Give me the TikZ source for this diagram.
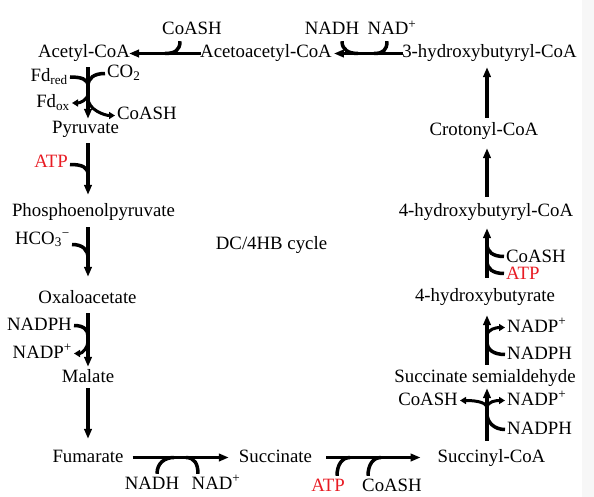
\documentclass[tikz,border=0pt]{standalone}
\usepackage{fontspec}
\setmainfont{Liberation Serif}
\usepackage{tikz}
\usepackage{xcolor}
\usetikzlibrary{arrows.meta}
\definecolor{atpred}{RGB}{232,28,36}

\begin{document}
\begin{tikzpicture}[x=1pt,y=-1pt,
  every node/.style={font=\fontsize{18.8}{22}\selectfont,inner sep=2pt,text height=13pt,text depth=4pt},
  main/.style={line width=3.5pt,-{Triangle[length=10pt,width=7.5pt]}},
  side/.style={line width=3.5pt},
  sidetip/.style={line width=3pt,-{Triangle[length=6pt,width=7pt]}},
  atp/.style={text=atpred}]

  \useasboundingbox (0,0) rectangle (594,497);
  \fill[black!3] (582,0) rectangle (594,497);

  \coordinate (L) at (88,0);
  \coordinate (R) at (487,0);

  \node (acetyl) at (84,53.5) {Acetyl-CoA};
  \node (acetoacetyl) at (266,53.5) {Acetoacetyl-CoA};
  \node (hbcoa3) at (489.5,53.5) {3-hydroxybutyryl-CoA};
  \node (pyruvate) at (85.5,129.5) {Pyruvate};
  \node (pep) at (93.5,211.5) {Phosphoenolpyruvate};
  \node (oaa) at (87.5,298.5) {Oxaloacetate};
  \node (malate) at (88,377.5) {Malate};
  \node (fumarate) at (88,457.5) {Fumarate};
  \node (succinate) at (275.5,457.5) {Succinate};
  \node (succinyl) at (491.5,457.5) {Succinyl-CoA};
  \node (ssa) at (485,377.5) {Succinate semialdehyde};
  \node (hb4) at (485,296.5) {4-hydroxybutyrate};
  \node (hbcoa4) at (486,211.5) {4-hydroxybutyryl-CoA};
  \node (crotonyl) at (484,131.5) {Crotonyl-CoA};
  \node (cycle) at (271.5,244.5) {DC/4HB cycle};

  \node (coasha) at (192,30.5) {CoASH};
  \node (nadha) at (332,30.5) {NADH};
  \node (nadpa) at (392,30.5) {NAD\textsuperscript{+}};
  \node[anchor=east] (fdred) at (70,77) {Fd\textsubscript{red}};
  \node[anchor=west] (co2) at (105,73.5) {CO\textsubscript{2}};
  \node[anchor=east] (fdox) at (72,103) {Fd\textsubscript{ox}};
  \node[anchor=west] (coashb) at (115,115.5) {CoASH};
  \node[anchor=east,atp] (atpa) at (70,163.5) {ATP};
  \node[anchor=east] (hco) at (72,239.5) {HCO\textsubscript{3}\textsuperscript{−}};
  \node[anchor=east] (nadpha) at (74,325.5) {NADPH};
  \node[anchor=east] (nadpb) at (74,353.5) {NADP\textsuperscript{+}};
  \node (nadhb) at (152,484.5) {NADH};
  \node (nadb) at (216,484.5) {NAD\textsuperscript{+}};
  \node[atp] (atpb) at (328,486.5) {ATP};
  \node (coashc) at (392,486.5) {CoASH};
  \node[anchor=west] (nadphb) at (505,429.5) {NADPH};
  \node[anchor=west] (nadpc) at (505,400.5) {NADP\textsuperscript{+}};
  \node[anchor=east] (coashd) at (460,400.5) {CoASH};
  \node[anchor=west] (nadphc) at (505,354.5) {NADPH};
  \node[anchor=west] (nadpd) at (505,327.5) {NADP\textsuperscript{+}};
  \node[anchor=west,atp] (atpc) at (504,274.5) {ATP};
  \node[anchor=west] (coashe) at (504,257.5) {CoASH};

  \coordinate (ja) at (165,53.5);
  \coordinate (jb) at (358,53.5);
  \coordinate (jc) at (374,53.5);
  \coordinate (jd) at (88,86);
  \coordinate (je) at (88,93);
  \coordinate (jf) at (88,98);
  \coordinate (jg) at (88,175);
  \coordinate (jh) at (88,258);
  \coordinate (ji) at (88,336);
  \coordinate (jj) at (88,341);
  \coordinate (jk) at (174,457.5);
  \coordinate (jl) at (186,457.5);
  \coordinate (jm) at (350,457.5);
  \coordinate (jn) at (381,457.5);
  \coordinate (jo) at (487,414);
  \coordinate (jp) at (487,408);
  \coordinate (jq) at (487,342);
  \coordinate (jr) at (487,336);
  \coordinate (js) at (487,261);
  \coordinate (jt) at (487,244);

  \draw[main,shorten <=-3pt,shorten >=-3pt] (acetoacetyl.west) -- (acetyl.east);
  \draw[main,shorten <=-3pt] (hbcoa3.west) -- (acetoacetyl.east);
  \draw[main,shorten <=3pt] (L |- acetyl.south) -- (L |- pyruvate.north);
  \draw[main,shorten <=3pt,shorten >=6pt] (L |- pyruvate.south) -- (L |- pep.north);
  \draw[main,shorten <=5pt,shorten >=11pt] (L |- pep.south) -- (L |- oaa.north);
  \draw[main,shorten <=4pt] (L |- oaa.south) -- (L |- malate.north);
  \draw[main,shorten >=8pt] (L |- malate.south) -- (L |- fumarate.north);
  \draw[main,shorten <=7pt,shorten >=8pt] (fumarate.east) -- (succinate.west);
  \draw[main,shorten <=12pt,shorten >=15pt] (succinate.east) -- (succinyl.west);
  \draw[main,shorten <=6pt] (R |- succinyl.north) -- (R |- ssa.south);
  \draw[main,shorten <=2pt,shorten >=8pt] (R |- ssa.north) -- (R |- hb4.south);
  \draw[main,shorten <=8pt,shorten >=6pt] (R |- hb4.north) -- (R |- hbcoa4.south);
  \draw[main,shorten <=4pt,shorten >=6pt] (R |- hbcoa4.north) -- (R |- crotonyl.south);
  \draw[main,shorten <=3pt,shorten >=3pt] (R |- crotonyl.north) -- (R |- hbcoa3.south);

  \draw[side] ([xshift=-12pt]coasha.south) .. controls +(0,9) and +(10,0) .. (ja);
  \draw[side] (jb) .. controls +(-9,0) and +(0,9) .. ([xshift=10pt]nadha.south);
  \draw[side] ([xshift=-5pt]nadpa.south) .. controls +(0,9) and +(9,0) .. (jc);
  \draw[side] (fdred.east) .. controls +(11,0) and +(0,-7) .. (jd);
  \draw[side] (co2.west) .. controls +(-11,0) and +(0,-8) .. (jd);
  \draw[sidetip] (je) .. controls +(0,7) and +(8,0) .. (fdox.east);
  \draw[sidetip] (jf) .. controls +(0,12) and +(-10,0) .. (coashb.west);
  \draw[side] ([yshift=-1pt]atpa.east) .. controls +(12,0) and +(0,-8) .. (jg);
  \draw[side] ([yshift=-5pt]hco.east) .. controls +(11,0) and +(0,-8) .. (jh);
  \draw[side] (nadpha.east) .. controls +(10,0) and +(0,-6) .. (ji);
  \draw[sidetip] (jj) .. controls +(0,7) and +(8,0) .. (nadpb.east);
  \draw[side] ([xshift=5pt]nadhb.north) .. controls +(0,-11) and +(-9,0) .. (jk);
  \draw[side] (jl) .. controls +(9,0) and +(0,-9) .. ([xshift=-18pt]nadb.north);
  \draw[side] ([xshift=9pt]atpb.north) .. controls +(0,-11) and +(-8,0) .. (jm);
  \draw[side] ([xshift=-24pt]coashc.north) .. controls +(0,-11) and +(-8,0) .. (jn);
  \draw[side] (nadphb.west) .. controls +(-11,0) and +(0,8) .. (jo);
  \draw[sidetip] (jp) .. controls +(0,-7) and +(-8,0) .. (nadpc.west);
  \draw[sidetip] (jp) .. controls +(0,-7) and +(11,0) .. (coashd.east);
  \draw[side] (nadphc.west) .. controls +(-11,0) and +(0,8) .. (jq);
  \draw[sidetip] (jr) .. controls +(0,-7) and +(-8,0) .. (nadpd.west);
  \draw[side] ([yshift=1pt]atpc.west) .. controls +(-11,0) and +(0,8) .. (js);
  \draw[side] ([yshift=1pt]coashe.west) .. controls +(-11,0) and +(0,8) .. (jt);
\end{tikzpicture}
\end{document}
